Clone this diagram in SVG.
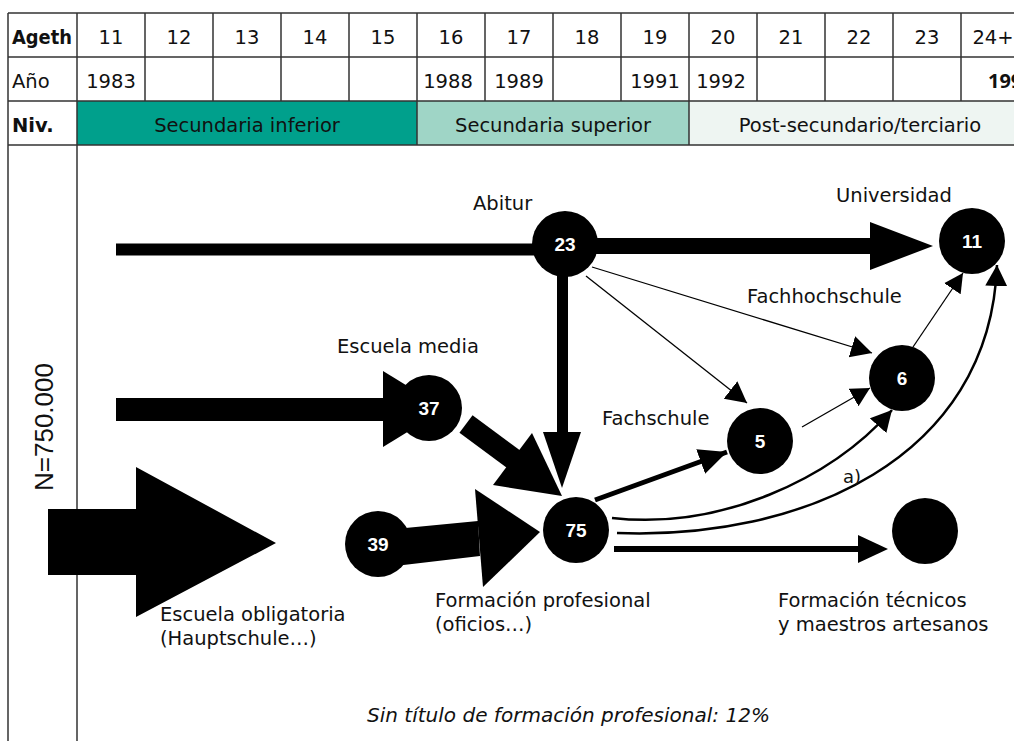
<svg xmlns="http://www.w3.org/2000/svg" width="1014" height="741" viewBox="0 0 1014 741">
<style>
.t{font-family:"DejaVu Sans","Open Sans",sans-serif;font-size:19.5px;fill:#111}
.h{font-family:"DejaVu Sans","Open Sans",sans-serif;font-size:19.5px;fill:#111}
.c{text-anchor:middle}
.b{font-weight:bold}
.n{font-family:"Liberation Sans",Arial,sans-serif;font-size:19px;font-weight:bold;fill:#fff;text-anchor:middle}
.g{stroke:#333;stroke-width:1.5;fill:none}
.thin{stroke:#000;stroke-width:1.3;fill:none}
.cur{stroke:#000;stroke-width:2.5;fill:none}
</style>
<defs>
<marker id="ah" markerUnits="userSpaceOnUse" markerWidth="24" markerHeight="24" refX="21" refY="11" orient="auto">
<path d="M0,0 L21,11 L0,22 Z" fill="#000"/>
</marker>
<marker id="ahs" markerUnits="userSpaceOnUse" markerWidth="24" markerHeight="24" refX="19" refY="10" orient="auto">
<path d="M0,0 L19,10 L0,20 Z" fill="#000"/>
</marker>
<marker id="ahb" markerUnits="userSpaceOnUse" markerWidth="32" markerHeight="30" refX="28" refY="13" orient="auto">
<path d="M0,0 L28,13 L0,26 Z" fill="#000"/>
</marker>
</defs>
<rect width="1014" height="741" fill="#fff"/>
<g id="table">
<rect x="77" y="101" width="340" height="44" fill="#00A08C"/>
<rect x="417" y="101" width="272" height="44" fill="#9FD5C6"/>
<rect x="689" y="101" width="330" height="44" fill="#EEF5F2"/>
<path class="g" d="M8,13H1014M8,57H1014M8,101H1014M8,145H1014M8,13V741M77,13V741M145,13V101M213,13V101M281,13V101M349,13V101M417,13V145M485,13V101M553,13V101M621,13V101M689,13V145M757,13V101M825,13V101M893,13V101M961,13V101"/>
<text class="h b" x="12" y="44" textLength="60" lengthAdjust="spacingAndGlyphs">Ageth</text>
<text class="h" x="12" y="88">Año</text>
<text class="h b" x="12" y="132">Niv.</text>
<g class="h c">
<text x="111" y="44">11</text><text x="179" y="44">12</text><text x="247" y="44">13</text><text x="315" y="44">14</text><text x="383" y="44">15</text><text x="451" y="44">16</text><text x="519" y="44">17</text><text x="587" y="44">18</text><text x="655" y="44">19</text><text x="723" y="44">20</text><text x="791" y="44">21</text><text x="859" y="44">22</text><text x="927" y="44">23</text><text x="993" y="44">24+</text>
<text x="111" y="88">1983</text><text x="448" y="88">1988</text><text x="519" y="88">1989</text><text x="655" y="88">1991</text><text x="721" y="88">1992</text>
<text x="247" y="132">Secundaria inferior</text><text x="553" y="132">Secundaria superior</text><text x="860" y="132">Post-secundario/terciario</text>
</g>
<text x="988" y="88" font-family="Open Sans,Liberation Sans,sans-serif" font-size="20" font-weight="bold" fill="#111">1996</text>
</g>
<text x="53" y="427" transform="rotate(-90 53 427)" font-family="Liberation Sans,Arial,sans-serif" font-size="26" text-anchor="middle" fill="#111">N=750.000</text>
<g id="connectors">
<rect x="116" y="243.5" width="420" height="12"/>
<rect x="596" y="238" width="276" height="16"/>
<polygon points="870,222 933,246 870,270"/>
<rect x="557" y="272" width="11" height="162"/>
<polygon points="543,432 581,432 562,488"/>
<rect x="116" y="398" width="270" height="23"/>
<polygon points="383,371 383,447 445,409"/>
<line x1="466" y1="424" x2="516" y2="461" stroke="#000" stroke-width="22"/>
<polygon points="493,485 532,433 562,496"/>
<polygon points="395,529 478,521 480,556 395,566"/>
<polygon points="475,489 540,532 483,587"/>
<polygon points="48,509 136,509 136,467 276,543 136,617 136,575 48,575"/>
<line class="thin" x1="586" y1="276" x2="747" y2="403" marker-end="url(#ah)"/>
<line class="thin" x1="592" y1="267" x2="872" y2="353" marker-end="url(#ah)"/>
<line class="thin" x1="802" y1="427" x2="870" y2="388" marker-end="url(#ahs)"/>
<line class="thin" x1="913" y1="347" x2="963" y2="273" marker-end="url(#ahs)"/>
<line x1="595" y1="500" x2="727" y2="452" stroke="#000" stroke-width="5" marker-end="url(#ahb)"/>
<path class="cur" d="M612,518 C720,530 830,480 892,410" marker-end="url(#ah)"/>
<path class="cur" d="M617,533 C800,540 990,460 997,265" marker-end="url(#ah)"/>
<rect x="614" y="546" width="246" height="6"/>
<polygon points="858,535 888,549 858,563"/>
</g>
<g id="n23"><circle cx="565" cy="244" r="33"/><text class="n" x="565" y="251">23</text></g>
<g id="n11"><circle cx="972" cy="241" r="33"/><text class="n" x="972" y="248">11</text></g>
<g id="n6"><circle cx="902" cy="378" r="33"/><text class="n" x="902" y="385">6</text></g>
<g id="n5"><circle cx="760" cy="441" r="33"/><text class="n" x="760" y="448">5</text></g>
<g id="n75"><circle cx="576" cy="530" r="33"/><text class="n" x="576" y="537">75</text></g>
<g id="n37"><circle cx="429" cy="408" r="33"/><text class="n" x="429" y="415">37</text></g>
<g id="n39"><circle cx="378" cy="544" r="33"/><text class="n" x="378" y="551">39</text></g>
<g id="ntec"><circle cx="925" cy="531" r="33"/></g>
<g id="labels" class="t">
<text x="473" y="210">Abitur</text>
<text x="836" y="202">Universidad</text>
<text x="747" y="303">Fachhochschule</text>
<text x="337" y="353">Escuela media</text>
<text x="602" y="425">Fachschule</text>
<text x="843" y="483" font-size="18">a)</text>
<text x="160" y="621">Escuela obligatoria<tspan x="160" dy="24">(Hauptschule…)</tspan></text>
<text x="435" y="607">Formación profesional<tspan x="435" dy="24">(oficios…)</tspan></text>
<text x="778" y="607">Formación técnicos<tspan x="778" dy="24">y maestros artesanos</tspan></text>
<text x="367" y="722" font-style="italic" font-size="20" textLength="403" lengthAdjust="spacingAndGlyphs">Sin título de formación profesional: 12%</text>
</g>
</svg>
